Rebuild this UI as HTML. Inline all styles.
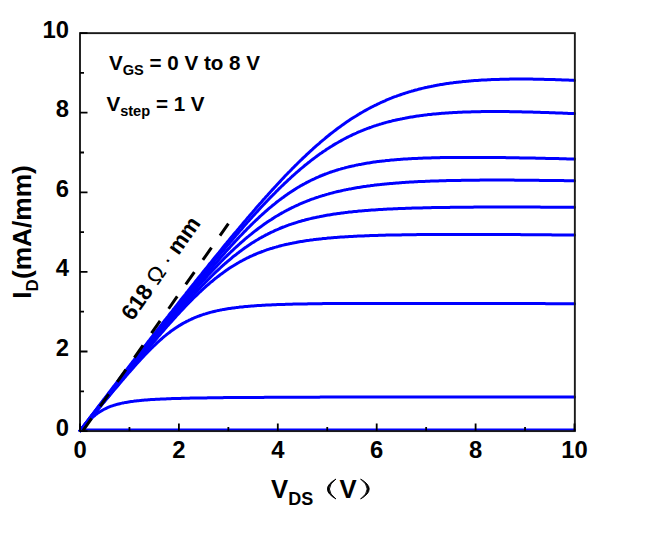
<!DOCTYPE html>
<html><head><meta charset="utf-8"><style>
html,body{margin:0;padding:0;background:#fff;}
svg{display:block;}
text{font-family:"Liberation Sans",sans-serif;font-weight:bold;fill:#000;}
</style></head><body>
<svg width="668" height="542" viewBox="0 0 668 542">
<rect width="668" height="542" fill="#fff"/>
<g fill="none" stroke="#0000ff" stroke-width="3" stroke-linejoin="round" stroke-linecap="round">
<polyline points="80.2,430.6 81.4,429.0 82.7,427.3 83.9,425.7 85.2,424.0 86.4,422.4 87.6,420.8 88.9,419.1 90.1,417.5 91.3,415.8 92.6,414.2 93.8,412.6 95.1,410.9 96.3,409.3 97.5,407.7 98.8,406.0 100.0,404.4 101.3,402.8 102.5,401.1 103.7,399.5 105.0,397.9 106.2,396.3 107.5,394.6 108.7,393.0 109.9,391.4 111.2,389.8 112.4,388.1 113.6,386.5 114.9,384.9 116.1,383.3 117.4,381.7 118.6,380.1 119.8,378.4 121.1,376.8 122.3,375.2 123.6,373.6 124.8,372.0 126.0,370.4 127.3,368.8 128.5,367.1 129.8,365.5 131.0,363.9 132.2,362.3 133.5,360.7 134.7,359.1 135.9,357.5 137.2,355.9 138.4,354.3 139.7,352.7 140.9,351.1 142.1,349.5 143.4,347.9 144.6,346.3 145.9,344.7 147.1,343.1 148.3,341.5 149.6,339.9 150.8,338.3 152.1,336.7 153.3,335.1 154.5,333.5 155.8,331.9 157.0,330.4 158.2,328.8 159.5,327.2 160.7,325.6 162.0,324.0 163.2,322.4 164.4,320.8 165.7,319.3 166.9,317.7 168.2,316.1 169.4,314.5 170.6,312.9 171.9,311.4 173.1,309.8 174.4,308.2 175.6,306.6 176.8,305.1 178.1,303.5 179.3,301.9 180.5,300.3 181.8,298.8 183.0,297.2 184.3,295.6 185.5,294.1 186.7,292.5 188.0,291.0 189.2,289.4 190.5,287.8 191.7,286.3 192.9,284.7 194.2,283.2 195.4,281.6 196.7,280.1 197.9,278.5 199.1,277.0 200.4,275.4 201.6,273.9 202.8,272.3 204.1,270.8 205.3,269.2 206.6,267.7 207.8,266.2 209.0,264.6 210.3,263.1 211.5,261.6 212.8,260.0 214.0,258.5 215.2,257.0 216.5,255.4 217.7,253.9 219.0,252.4 220.2,250.9 221.4,249.4 222.7,247.8 223.9,246.3 225.1,244.8 226.4,243.3 227.6,241.8 228.9,240.3 230.1,238.8 231.3,237.3 232.6,235.8 233.8,234.3 235.1,232.8 236.3,231.4 237.5,229.9 238.8,228.4 240.0,226.9 241.3,225.4 242.5,224.0 243.7,222.5 245.0,221.1 246.2,219.6 247.4,218.1 248.7,216.7 249.9,215.2 251.2,213.8 252.4,212.4 253.6,210.9 254.9,209.5 256.1,208.1 257.4,206.6 258.6,205.2 259.8,203.8 261.1,202.4 262.3,201.0 263.5,199.6 264.8,198.2 266.0,196.8 267.3,195.4 268.5,194.0 269.7,192.7 271.0,191.3 272.2,189.9 273.5,188.6 274.7,187.2 275.9,185.9 277.2,184.5 278.4,183.2 279.7,181.9 280.9,180.5 282.1,179.2 283.4,177.9 284.6,176.6 285.8,175.3 287.1,174.0 288.3,172.7 289.6,171.5 290.8,170.2 292.0,168.9 293.3,167.7 294.5,166.4 295.8,165.2 297.0,164.0 298.2,162.8 299.5,161.5 300.7,160.3 302.0,159.1 303.2,157.9 304.4,156.8 305.7,155.6 306.9,154.4 308.1,153.3 309.4,152.1 310.6,151.0 311.9,149.9 313.1,148.7 314.3,147.6 315.6,146.5 316.8,145.4 318.1,144.3 319.3,143.3 320.5,142.2 321.8,141.1 323.0,140.1 324.3,139.1 325.5,138.0 326.7,137.0 328.0,136.0 329.2,135.0 330.4,134.0 331.7,133.1 332.9,132.1 334.2,131.1 335.4,130.2 336.6,129.3 337.9,128.3 339.1,127.4 340.4,126.5 341.6,125.6 342.8,124.7 344.1,123.9 345.3,123.0 346.6,122.1 347.8,121.3 349.0,120.5 350.3,119.6 351.5,118.8 352.7,118.0 354.0,117.2 355.2,116.5 356.5,115.7 357.7,114.9 358.9,114.2 360.2,113.4 361.4,112.7 362.7,112.0 363.9,111.3 365.1,110.6 366.4,109.9 367.6,109.2 368.9,108.5 370.1,107.9 371.3,107.2 372.6,106.6 373.8,106.0 375.0,105.4 376.3,104.8 377.5,104.2 378.8,103.6 380.0,103.0 381.2,102.4 382.5,101.9 383.7,101.3 385.0,100.8 386.2,100.2 387.4,99.7 388.7,99.2 389.9,98.7 391.2,98.2 392.4,97.7 393.6,97.2 394.9,96.7 396.1,96.3 397.3,95.8 398.6,95.4 399.8,95.0 401.1,94.5 402.3,94.1 403.5,93.7 404.8,93.3 406.0,92.9 407.3,92.5 408.5,92.1 409.7,91.7 411.0,91.4 412.2,91.0 413.4,90.7 414.7,90.3 415.9,90.0 417.2,89.7 418.4,89.3 419.6,89.0 420.9,88.7 422.1,88.4 423.4,88.1 424.6,87.8 425.8,87.5 427.1,87.3 428.3,87.0 429.6,86.7 430.8,86.5 432.0,86.2 433.3,86.0 434.5,85.7 435.7,85.5 437.0,85.3 438.2,85.1 439.5,84.8 440.7,84.6 441.9,84.4 443.2,84.2 444.4,84.0 445.7,83.8 446.9,83.6 448.1,83.5 449.4,83.3 450.6,83.1 451.9,82.9 453.1,82.8 454.3,82.6 455.6,82.5 456.8,82.3 458.0,82.2 459.3,82.0 460.5,81.9 461.8,81.8 463.0,81.6 464.2,81.5 465.5,81.4 466.7,81.3 468.0,81.2 469.2,81.0 470.4,80.9 471.7,80.8 472.9,80.7 474.2,80.6 475.4,80.5 476.6,80.5 477.9,80.4 479.1,80.3 480.3,80.2 481.6,80.1 482.8,80.1 484.1,80.0 485.3,79.9 486.5,79.9 487.8,79.8 489.0,79.7 490.3,79.7 491.5,79.6 492.7,79.6 494.0,79.5 495.2,79.5 496.5,79.4 497.7,79.4 498.9,79.4 500.2,79.3 501.4,79.3 502.6,79.3 503.9,79.2 505.1,79.2 506.4,79.2 507.6,79.2 508.8,79.2 510.1,79.1 511.3,79.1 512.6,79.1 513.8,79.1 515.0,79.1 516.3,79.1 517.5,79.1 518.8,79.1 520.0,79.1 521.2,79.1 522.5,79.1 523.7,79.1 524.9,79.1 526.2,79.1 527.4,79.1 528.7,79.1 529.9,79.1 531.1,79.1 532.4,79.1 533.6,79.2 534.9,79.2 536.1,79.2 537.3,79.2 538.6,79.2 539.8,79.3 541.1,79.3 542.3,79.3 543.5,79.3 544.8,79.4 546.0,79.4 547.2,79.4 548.5,79.5 549.7,79.5 551.0,79.5 552.2,79.6 553.4,79.6 554.7,79.6 555.9,79.7 557.2,79.7 558.4,79.7 559.6,79.8 560.9,79.8 562.1,79.9 563.4,79.9 564.6,80.0 565.8,80.0 567.1,80.1 568.3,80.1 569.5,80.2 570.8,80.2 572.0,80.3 573.3,80.3 574.5,80.4"/>
<polyline points="80.2,430.6 81.4,429.0 82.7,427.4 83.9,425.8 85.2,424.2 86.4,422.6 87.6,420.9 88.9,419.3 90.1,417.7 91.3,416.1 92.6,414.5 93.8,412.9 95.1,411.3 96.3,409.7 97.5,408.1 98.8,406.5 100.0,404.9 101.3,403.3 102.5,401.7 103.7,400.1 105.0,398.5 106.2,396.9 107.5,395.3 108.7,393.8 109.9,392.2 111.2,390.6 112.4,389.0 113.6,387.4 114.9,385.8 116.1,384.2 117.4,382.6 118.6,381.0 119.8,379.4 121.1,377.9 122.3,376.3 123.6,374.7 124.8,373.1 126.0,371.5 127.3,369.9 128.5,368.3 129.8,366.8 131.0,365.2 132.2,363.6 133.5,362.0 134.7,360.4 135.9,358.9 137.2,357.3 138.4,355.7 139.7,354.1 140.9,352.6 142.1,351.0 143.4,349.4 144.6,347.8 145.9,346.3 147.1,344.7 148.3,343.1 149.6,341.6 150.8,340.0 152.1,338.4 153.3,336.9 154.5,335.3 155.8,333.7 157.0,332.2 158.2,330.6 159.5,329.0 160.7,327.5 162.0,325.9 163.2,324.4 164.4,322.8 165.7,321.3 166.9,319.7 168.2,318.1 169.4,316.6 170.6,315.0 171.9,313.5 173.1,311.9 174.4,310.4 175.6,308.8 176.8,307.3 178.1,305.7 179.3,304.2 180.5,302.6 181.8,301.1 183.0,299.6 184.3,298.0 185.5,296.5 186.7,294.9 188.0,293.4 189.2,291.9 190.5,290.3 191.7,288.8 192.9,287.3 194.2,285.7 195.4,284.2 196.7,282.7 197.9,281.2 199.1,279.6 200.4,278.1 201.6,276.6 202.8,275.1 204.1,273.6 205.3,272.1 206.6,270.6 207.8,269.0 209.0,267.5 210.3,266.0 211.5,264.5 212.8,263.0 214.0,261.5 215.2,260.0 216.5,258.5 217.7,257.1 219.0,255.6 220.2,254.1 221.4,252.6 222.7,251.1 223.9,249.7 225.1,248.2 226.4,246.7 227.6,245.3 228.9,243.8 230.1,242.3 231.3,240.9 232.6,239.4 233.8,238.0 235.1,236.5 236.3,235.1 237.5,233.7 238.8,232.2 240.0,230.8 241.3,229.4 242.5,228.0 243.7,226.6 245.0,225.1 246.2,223.7 247.4,222.3 248.7,221.0 249.9,219.6 251.2,218.2 252.4,216.8 253.6,215.4 254.9,214.1 256.1,212.7 257.4,211.4 258.6,210.0 259.8,208.7 261.1,207.3 262.3,206.0 263.5,204.7 264.8,203.4 266.0,202.1 267.3,200.8 268.5,199.5 269.7,198.2 271.0,196.9 272.2,195.7 273.5,194.4 274.7,193.2 275.9,191.9 277.2,190.7 278.4,189.4 279.7,188.2 280.9,187.0 282.1,185.8 283.4,184.6 284.6,183.4 285.8,182.3 287.1,181.1 288.3,179.9 289.6,178.8 290.8,177.7 292.0,176.5 293.3,175.4 294.5,174.3 295.8,173.2 297.0,172.1 298.2,171.1 299.5,170.0 300.7,168.9 302.0,167.9 303.2,166.9 304.4,165.8 305.7,164.8 306.9,163.8 308.1,162.8 309.4,161.9 310.6,160.9 311.9,159.9 313.1,159.0 314.3,158.1 315.6,157.1 316.8,156.2 318.1,155.3 319.3,154.4 320.5,153.5 321.8,152.7 323.0,151.8 324.3,151.0 325.5,150.2 326.7,149.3 328.0,148.5 329.2,147.7 330.4,146.9 331.7,146.2 332.9,145.4 334.2,144.6 335.4,143.9 336.6,143.2 337.9,142.5 339.1,141.8 340.4,141.1 341.6,140.4 342.8,139.7 344.1,139.0 345.3,138.4 346.6,137.7 347.8,137.1 349.0,136.5 350.3,135.9 351.5,135.3 352.7,134.7 354.0,134.1 355.2,133.6 356.5,133.0 357.7,132.4 358.9,131.9 360.2,131.4 361.4,130.9 362.7,130.4 363.9,129.9 365.1,129.4 366.4,128.9 367.6,128.4 368.9,128.0 370.1,127.5 371.3,127.1 372.6,126.6 373.8,126.2 375.0,125.8 376.3,125.4 377.5,125.0 378.8,124.6 380.0,124.2 381.2,123.9 382.5,123.5 383.7,123.1 385.0,122.8 386.2,122.4 387.4,122.1 388.7,121.8 389.9,121.5 391.2,121.2 392.4,120.8 393.6,120.5 394.9,120.3 396.1,120.0 397.3,119.7 398.6,119.4 399.8,119.2 401.1,118.9 402.3,118.7 403.5,118.4 404.8,118.2 406.0,117.9 407.3,117.7 408.5,117.5 409.7,117.3 411.0,117.1 412.2,116.9 413.4,116.7 414.7,116.5 415.9,116.3 417.2,116.1 418.4,115.9 419.6,115.7 420.9,115.6 422.1,115.4 423.4,115.2 424.6,115.1 425.8,114.9 427.1,114.8 428.3,114.6 429.6,114.5 430.8,114.4 432.0,114.2 433.3,114.1 434.5,114.0 435.7,113.9 437.0,113.8 438.2,113.7 439.5,113.5 440.7,113.4 441.9,113.3 443.2,113.2 444.4,113.2 445.7,113.1 446.9,113.0 448.1,112.9 449.4,112.8 450.6,112.7 451.9,112.7 453.1,112.6 454.3,112.5 455.6,112.5 456.8,112.4 458.0,112.3 459.3,112.3 460.5,112.2 461.8,112.2 463.0,112.1 464.2,112.1 465.5,112.0 466.7,112.0 468.0,111.9 469.2,111.9 470.4,111.9 471.7,111.8 472.9,111.8 474.2,111.8 475.4,111.7 476.6,111.7 477.9,111.7 479.1,111.7 480.3,111.7 481.6,111.6 482.8,111.6 484.1,111.6 485.3,111.6 486.5,111.6 487.8,111.6 489.0,111.6 490.3,111.6 491.5,111.6 492.7,111.6 494.0,111.5 495.2,111.5 496.5,111.6 497.7,111.6 498.9,111.6 500.2,111.6 501.4,111.6 502.6,111.6 503.9,111.6 505.1,111.6 506.4,111.6 507.6,111.6 508.8,111.6 510.1,111.7 511.3,111.7 512.6,111.7 513.8,111.7 515.0,111.7 516.3,111.8 517.5,111.8 518.8,111.8 520.0,111.8 521.2,111.8 522.5,111.9 523.7,111.9 524.9,111.9 526.2,112.0 527.4,112.0 528.7,112.0 529.9,112.1 531.1,112.1 532.4,112.1 533.6,112.2 534.9,112.2 536.1,112.2 537.3,112.3 538.6,112.3 539.8,112.3 541.1,112.4 542.3,112.4 543.5,112.5 544.8,112.5 546.0,112.5 547.2,112.6 548.5,112.6 549.7,112.7 551.0,112.7 552.2,112.8 553.4,112.8 554.7,112.8 555.9,112.9 557.2,112.9 558.4,113.0 559.6,113.0 560.9,113.1 562.1,113.1 563.4,113.2 564.6,113.2 565.8,113.3 567.1,113.3 568.3,113.4 569.5,113.4 570.8,113.5 572.0,113.5 573.3,113.6 574.5,113.6"/>
<polyline points="80.2,430.6 81.4,429.0 82.7,427.5 83.9,425.9 85.2,424.3 86.4,422.8 87.6,421.2 88.9,419.7 90.1,418.1 91.3,416.5 92.6,415.0 93.8,413.4 95.1,411.8 96.3,410.3 97.5,408.7 98.8,407.2 100.0,405.6 101.3,404.0 102.5,402.5 103.7,400.9 105.0,399.4 106.2,397.8 107.5,396.3 108.7,394.7 109.9,393.1 111.2,391.6 112.4,390.0 113.6,388.5 114.9,386.9 116.1,385.4 117.4,383.8 118.6,382.3 119.8,380.7 121.1,379.2 122.3,377.6 123.6,376.1 124.8,374.5 126.0,373.0 127.3,371.4 128.5,369.9 129.8,368.3 131.0,366.8 132.2,365.2 133.5,363.7 134.7,362.1 135.9,360.6 137.2,359.0 138.4,357.5 139.7,355.9 140.9,354.4 142.1,352.8 143.4,351.3 144.6,349.8 145.9,348.2 147.1,346.7 148.3,345.1 149.6,343.6 150.8,342.1 152.1,340.5 153.3,339.0 154.5,337.4 155.8,335.9 157.0,334.4 158.2,332.8 159.5,331.3 160.7,329.8 162.0,328.2 163.2,326.7 164.4,325.2 165.7,323.6 166.9,322.1 168.2,320.6 169.4,319.0 170.6,317.5 171.9,316.0 173.1,314.5 174.4,312.9 175.6,311.4 176.8,309.9 178.1,308.4 179.3,306.9 180.5,305.3 181.8,303.8 183.0,302.3 184.3,300.8 185.5,299.3 186.7,297.8 188.0,296.3 189.2,294.8 190.5,293.3 191.7,291.8 192.9,290.3 194.2,288.8 195.4,287.3 196.7,285.8 197.9,284.3 199.1,282.8 200.4,281.3 201.6,279.9 202.8,278.4 204.1,276.9 205.3,275.4 206.6,274.0 207.8,272.5 209.0,271.1 210.3,269.6 211.5,268.2 212.8,266.7 214.0,265.3 215.2,263.8 216.5,262.4 217.7,261.0 219.0,259.5 220.2,258.1 221.4,256.7 222.7,255.3 223.9,253.9 225.1,252.5 226.4,251.1 227.6,249.7 228.9,248.4 230.1,247.0 231.3,245.6 232.6,244.3 233.8,242.9 235.1,241.6 236.3,240.3 237.5,238.9 238.8,237.6 240.0,236.3 241.3,235.0 242.5,233.7 243.7,232.4 245.0,231.2 246.2,229.9 247.4,228.6 248.7,227.4 249.9,226.2 251.2,224.9 252.4,223.7 253.6,222.5 254.9,221.3 256.1,220.1 257.4,219.0 258.6,217.8 259.8,216.7 261.1,215.5 262.3,214.4 263.5,213.3 264.8,212.2 266.0,211.1 267.3,210.0 268.5,208.9 269.7,207.9 271.0,206.8 272.2,205.8 273.5,204.8 274.7,203.8 275.9,202.8 277.2,201.8 278.4,200.9 279.7,199.9 280.9,199.0 282.1,198.1 283.4,197.2 284.6,196.3 285.8,195.4 287.1,194.5 288.3,193.6 289.6,192.8 290.8,192.0 292.0,191.2 293.3,190.4 294.5,189.6 295.8,188.8 297.0,188.0 298.2,187.3 299.5,186.6 300.7,185.8 302.0,185.1 303.2,184.4 304.4,183.8 305.7,183.1 306.9,182.4 308.1,181.8 309.4,181.2 310.6,180.5 311.9,179.9 313.1,179.3 314.3,178.8 315.6,178.2 316.8,177.6 318.1,177.1 319.3,176.5 320.5,176.0 321.8,175.5 323.0,175.0 324.3,174.5 325.5,174.0 326.7,173.6 328.0,173.1 329.2,172.7 330.4,172.2 331.7,171.8 332.9,171.4 334.2,171.0 335.4,170.6 336.6,170.2 337.9,169.8 339.1,169.4 340.4,169.1 341.6,168.7 342.8,168.4 344.1,168.1 345.3,167.7 346.6,167.4 347.8,167.1 349.0,166.8 350.3,166.5 351.5,166.2 352.7,165.9 354.0,165.7 355.2,165.4 356.5,165.1 357.7,164.9 358.9,164.6 360.2,164.4 361.4,164.2 362.7,163.9 363.9,163.7 365.1,163.5 366.4,163.3 367.6,163.1 368.9,162.9 370.1,162.7 371.3,162.5 372.6,162.3 373.8,162.1 375.0,162.0 376.3,161.8 377.5,161.6 378.8,161.5 380.0,161.3 381.2,161.2 382.5,161.0 383.7,160.9 385.0,160.8 386.2,160.6 387.4,160.5 388.7,160.4 389.9,160.2 391.2,160.1 392.4,160.0 393.6,159.9 394.9,159.8 396.1,159.7 397.3,159.6 398.6,159.5 399.8,159.4 401.1,159.3 402.3,159.2 403.5,159.1 404.8,159.1 406.0,159.0 407.3,158.9 408.5,158.8 409.7,158.8 411.0,158.7 412.2,158.6 413.4,158.6 414.7,158.5 415.9,158.4 417.2,158.4 418.4,158.3 419.6,158.3 420.9,158.2 422.1,158.2 423.4,158.1 424.6,158.1 425.8,158.0 427.1,158.0 428.3,157.9 429.6,157.9 430.8,157.9 432.0,157.8 433.3,157.8 434.5,157.8 435.7,157.7 437.0,157.7 438.2,157.7 439.5,157.7 440.7,157.6 441.9,157.6 443.2,157.6 444.4,157.6 445.7,157.5 446.9,157.5 448.1,157.5 449.4,157.5 450.6,157.5 451.9,157.5 453.1,157.4 454.3,157.4 455.6,157.4 456.8,157.4 458.0,157.4 459.3,157.4 460.5,157.4 461.8,157.4 463.0,157.4 464.2,157.4 465.5,157.4 466.7,157.4 468.0,157.4 469.2,157.4 470.4,157.4 471.7,157.4 472.9,157.4 474.2,157.4 475.4,157.4 476.6,157.4 477.9,157.4 479.1,157.4 480.3,157.4 481.6,157.4 482.8,157.4 484.1,157.4 485.3,157.4 486.5,157.4 487.8,157.5 489.0,157.5 490.3,157.5 491.5,157.5 492.7,157.5 494.0,157.5 495.2,157.5 496.5,157.5 497.7,157.6 498.9,157.6 500.2,157.6 501.4,157.6 502.6,157.6 503.9,157.6 505.1,157.6 506.4,157.7 507.6,157.7 508.8,157.7 510.1,157.7 511.3,157.7 512.6,157.8 513.8,157.8 515.0,157.8 516.3,157.8 517.5,157.8 518.8,157.8 520.0,157.9 521.2,157.9 522.5,157.9 523.7,157.9 524.9,158.0 526.2,158.0 527.4,158.0 528.7,158.0 529.9,158.0 531.1,158.1 532.4,158.1 533.6,158.1 534.9,158.1 536.1,158.2 537.3,158.2 538.6,158.2 539.8,158.2 541.1,158.3 542.3,158.3 543.5,158.3 544.8,158.3 546.0,158.4 547.2,158.4 548.5,158.4 549.7,158.5 551.0,158.5 552.2,158.5 553.4,158.5 554.7,158.6 555.9,158.6 557.2,158.6 558.4,158.6 559.6,158.7 560.9,158.7 562.1,158.7 563.4,158.8 564.6,158.8 565.8,158.8 567.1,158.9 568.3,158.9 569.5,158.9 570.8,158.9 572.0,159.0 573.3,159.0 574.5,159.0"/>
<polyline points="80.2,430.6 81.4,429.0 82.7,427.5 83.9,425.9 85.2,424.4 86.4,422.8 87.6,421.3 88.9,419.7 90.1,418.2 91.3,416.6 92.6,415.1 93.8,413.5 95.1,412.0 96.3,410.4 97.5,408.8 98.8,407.3 100.0,405.7 101.3,404.2 102.5,402.6 103.7,401.1 105.0,399.5 106.2,398.0 107.5,396.4 108.7,394.9 109.9,393.4 111.2,391.8 112.4,390.3 113.6,388.7 114.9,387.2 116.1,385.6 117.4,384.1 118.6,382.5 119.8,381.0 121.1,379.4 122.3,377.9 123.6,376.4 124.8,374.8 126.0,373.3 127.3,371.7 128.5,370.2 129.8,368.7 131.0,367.1 132.2,365.6 133.5,364.0 134.7,362.5 135.9,361.0 137.2,359.4 138.4,357.9 139.7,356.4 140.9,354.8 142.1,353.3 143.4,351.8 144.6,350.2 145.9,348.7 147.1,347.2 148.3,345.7 149.6,344.1 150.8,342.6 152.1,341.1 153.3,339.6 154.5,338.1 155.8,336.5 157.0,335.0 158.2,333.5 159.5,332.0 160.7,330.5 162.0,329.0 163.2,327.5 164.4,326.0 165.7,324.5 166.9,323.0 168.2,321.5 169.4,320.0 170.6,318.5 171.9,317.0 173.1,315.5 174.4,314.0 175.6,312.5 176.8,311.1 178.1,309.6 179.3,308.1 180.5,306.7 181.8,305.2 183.0,303.7 184.3,302.3 185.5,300.8 186.7,299.4 188.0,297.9 189.2,296.5 190.5,295.1 191.7,293.6 192.9,292.2 194.2,290.8 195.4,289.4 196.7,288.0 197.9,286.6 199.1,285.2 200.4,283.8 201.6,282.4 202.8,281.0 204.1,279.7 205.3,278.3 206.6,276.9 207.8,275.6 209.0,274.3 210.3,272.9 211.5,271.6 212.8,270.3 214.0,269.0 215.2,267.7 216.5,266.4 217.7,265.1 219.0,263.8 220.2,262.5 221.4,261.3 222.7,260.0 223.9,258.8 225.1,257.5 226.4,256.3 227.6,255.1 228.9,253.9 230.1,252.7 231.3,251.5 232.6,250.4 233.8,249.2 235.1,248.0 236.3,246.9 237.5,245.8 238.8,244.7 240.0,243.5 241.3,242.4 242.5,241.4 243.7,240.3 245.0,239.2 246.2,238.2 247.4,237.1 248.7,236.1 249.9,235.1 251.2,234.1 252.4,233.1 253.6,232.1 254.9,231.1 256.1,230.2 257.4,229.2 258.6,228.3 259.8,227.4 261.1,226.5 262.3,225.6 263.5,224.7 264.8,223.8 266.0,223.0 267.3,222.1 268.5,221.3 269.7,220.5 271.0,219.7 272.2,218.9 273.5,218.1 274.7,217.3 275.9,216.5 277.2,215.8 278.4,215.1 279.7,214.3 280.9,213.6 282.1,212.9 283.4,212.2 284.6,211.5 285.8,210.9 287.1,210.2 288.3,209.6 289.6,208.9 290.8,208.3 292.0,207.7 293.3,207.1 294.5,206.5 295.8,205.9 297.0,205.3 298.2,204.8 299.5,204.2 300.7,203.7 302.0,203.1 303.2,202.6 304.4,202.1 305.7,201.6 306.9,201.1 308.1,200.6 309.4,200.2 310.6,199.7 311.9,199.2 313.1,198.8 314.3,198.4 315.6,197.9 316.8,197.5 318.1,197.1 319.3,196.7 320.5,196.3 321.8,195.9 323.0,195.5 324.3,195.2 325.5,194.8 326.7,194.4 328.0,194.1 329.2,193.7 330.4,193.4 331.7,193.1 332.9,192.8 334.2,192.4 335.4,192.1 336.6,191.8 337.9,191.5 339.1,191.2 340.4,191.0 341.6,190.7 342.8,190.4 344.1,190.1 345.3,189.9 346.6,189.6 347.8,189.4 349.0,189.1 350.3,188.9 351.5,188.7 352.7,188.4 354.0,188.2 355.2,188.0 356.5,187.8 357.7,187.6 358.9,187.4 360.2,187.2 361.4,187.0 362.7,186.8 363.9,186.6 365.1,186.4 366.4,186.3 367.6,186.1 368.9,185.9 370.1,185.8 371.3,185.6 372.6,185.4 373.8,185.3 375.0,185.1 376.3,185.0 377.5,184.8 378.8,184.7 380.0,184.6 381.2,184.4 382.5,184.3 383.7,184.2 385.0,184.0 386.2,183.9 387.4,183.8 388.7,183.7 389.9,183.6 391.2,183.5 392.4,183.4 393.6,183.3 394.9,183.2 396.1,183.1 397.3,183.0 398.6,182.9 399.8,182.8 401.1,182.7 402.3,182.6 403.5,182.5 404.8,182.4 406.0,182.3 407.3,182.3 408.5,182.2 409.7,182.1 411.0,182.0 412.2,182.0 413.4,181.9 414.7,181.8 415.9,181.8 417.2,181.7 418.4,181.6 419.6,181.6 420.9,181.5 422.1,181.5 423.4,181.4 424.6,181.4 425.8,181.3 427.1,181.3 428.3,181.2 429.6,181.2 430.8,181.1 432.0,181.1 433.3,181.0 434.5,181.0 435.7,180.9 437.0,180.9 438.2,180.9 439.5,180.8 440.7,180.8 441.9,180.7 443.2,180.7 444.4,180.7 445.7,180.7 446.9,180.6 448.1,180.6 449.4,180.6 450.6,180.5 451.9,180.5 453.1,180.5 454.3,180.5 455.6,180.4 456.8,180.4 458.0,180.4 459.3,180.4 460.5,180.4 461.8,180.3 463.0,180.3 464.2,180.3 465.5,180.3 466.7,180.3 468.0,180.3 469.2,180.2 470.4,180.2 471.7,180.2 472.9,180.2 474.2,180.2 475.4,180.2 476.6,180.2 477.9,180.2 479.1,180.2 480.3,180.1 481.6,180.1 482.8,180.1 484.1,180.1 485.3,180.1 486.5,180.1 487.8,180.1 489.0,180.1 490.3,180.1 491.5,180.1 492.7,180.1 494.0,180.1 495.2,180.1 496.5,180.1 497.7,180.1 498.9,180.1 500.2,180.1 501.4,180.1 502.6,180.1 503.9,180.1 505.1,180.1 506.4,180.1 507.6,180.1 508.8,180.1 510.1,180.1 511.3,180.1 512.6,180.1 513.8,180.1 515.0,180.2 516.3,180.2 517.5,180.2 518.8,180.2 520.0,180.2 521.2,180.2 522.5,180.2 523.7,180.2 524.9,180.2 526.2,180.2 527.4,180.2 528.7,180.2 529.9,180.3 531.1,180.3 532.4,180.3 533.6,180.3 534.9,180.3 536.1,180.3 537.3,180.3 538.6,180.3 539.8,180.4 541.1,180.4 542.3,180.4 543.5,180.4 544.8,180.4 546.0,180.4 547.2,180.4 548.5,180.5 549.7,180.5 551.0,180.5 552.2,180.5 553.4,180.5 554.7,180.5 555.9,180.5 557.2,180.6 558.4,180.6 559.6,180.6 560.9,180.6 562.1,180.6 563.4,180.6 564.6,180.7 565.8,180.7 567.1,180.7 568.3,180.7 569.5,180.7 570.8,180.8 572.0,180.8 573.3,180.8 574.5,180.8"/>
<polyline points="80.2,430.6 81.4,429.1 82.7,427.6 83.9,426.0 85.2,424.5 86.4,423.0 87.6,421.5 88.9,420.0 90.1,418.4 91.3,416.9 92.6,415.4 93.8,413.9 95.1,412.4 96.3,410.8 97.5,409.3 98.8,407.8 100.0,406.3 101.3,404.8 102.5,403.3 103.7,401.7 105.0,400.2 106.2,398.7 107.5,397.2 108.7,395.7 109.9,394.2 111.2,392.6 112.4,391.1 113.6,389.6 114.9,388.1 116.1,386.6 117.4,385.1 118.6,383.6 119.8,382.0 121.1,380.5 122.3,379.0 123.6,377.5 124.8,376.0 126.0,374.5 127.3,373.0 128.5,371.5 129.8,369.9 131.0,368.4 132.2,366.9 133.5,365.4 134.7,363.9 135.9,362.4 137.2,360.9 138.4,359.4 139.7,357.9 140.9,356.4 142.1,354.9 143.4,353.4 144.6,351.9 145.9,350.4 147.1,348.9 148.3,347.4 149.6,345.9 150.8,344.4 152.1,342.9 153.3,341.4 154.5,339.9 155.8,338.4 157.0,337.0 158.2,335.5 159.5,334.0 160.7,332.5 162.0,331.1 163.2,329.6 164.4,328.1 165.7,326.6 166.9,325.2 168.2,323.7 169.4,322.3 170.6,320.8 171.9,319.4 173.1,317.9 174.4,316.5 175.6,315.1 176.8,313.6 178.1,312.2 179.3,310.8 180.5,309.4 181.8,307.9 183.0,306.5 184.3,305.1 185.5,303.7 186.7,302.4 188.0,301.0 189.2,299.6 190.5,298.2 191.7,296.9 192.9,295.5 194.2,294.2 195.4,292.8 196.7,291.5 197.9,290.2 199.1,288.9 200.4,287.5 201.6,286.3 202.8,285.0 204.1,283.7 205.3,282.4 206.6,281.1 207.8,279.9 209.0,278.7 210.3,277.4 211.5,276.2 212.8,275.0 214.0,273.8 215.2,272.6 216.5,271.4 217.7,270.3 219.0,269.1 220.2,268.0 221.4,266.8 222.7,265.7 223.9,264.6 225.1,263.5 226.4,262.5 227.6,261.4 228.9,260.3 230.1,259.3 231.3,258.3 232.6,257.2 233.8,256.2 235.1,255.3 236.3,254.3 237.5,253.3 238.8,252.4 240.0,251.4 241.3,250.5 242.5,249.6 243.7,248.7 245.0,247.8 246.2,247.0 247.4,246.1 248.7,245.3 249.9,244.5 251.2,243.6 252.4,242.8 253.6,242.1 254.9,241.3 256.1,240.5 257.4,239.8 258.6,239.1 259.8,238.3 261.1,237.6 262.3,236.9 263.5,236.3 264.8,235.6 266.0,234.9 267.3,234.3 268.5,233.7 269.7,233.1 271.0,232.4 272.2,231.9 273.5,231.3 274.7,230.7 275.9,230.1 277.2,229.6 278.4,229.1 279.7,228.5 280.9,228.0 282.1,227.5 283.4,227.0 284.6,226.6 285.8,226.1 287.1,225.6 288.3,225.2 289.6,224.7 290.8,224.3 292.0,223.9 293.3,223.5 294.5,223.1 295.8,222.7 297.0,222.3 298.2,221.9 299.5,221.5 300.7,221.2 302.0,220.8 303.2,220.5 304.4,220.2 305.7,219.8 306.9,219.5 308.1,219.2 309.4,218.9 310.6,218.6 311.9,218.3 313.1,218.0 314.3,217.7 315.6,217.5 316.8,217.2 318.1,216.9 319.3,216.7 320.5,216.4 321.8,216.2 323.0,216.0 324.3,215.7 325.5,215.5 326.7,215.3 328.0,215.1 329.2,214.9 330.4,214.7 331.7,214.5 332.9,214.3 334.2,214.1 335.4,213.9 336.6,213.7 337.9,213.5 339.1,213.4 340.4,213.2 341.6,213.0 342.8,212.9 344.1,212.7 345.3,212.6 346.6,212.4 347.8,212.3 349.0,212.1 350.3,212.0 351.5,211.9 352.7,211.7 354.0,211.6 355.2,211.5 356.5,211.4 357.7,211.2 358.9,211.1 360.2,211.0 361.4,210.9 362.7,210.8 363.9,210.7 365.1,210.6 366.4,210.5 367.6,210.4 368.9,210.3 370.1,210.2 371.3,210.1 372.6,210.0 373.8,209.9 375.0,209.9 376.3,209.8 377.5,209.7 378.8,209.6 380.0,209.5 381.2,209.5 382.5,209.4 383.7,209.3 385.0,209.3 386.2,209.2 387.4,209.1 388.7,209.1 389.9,209.0 391.2,208.9 392.4,208.9 393.6,208.8 394.9,208.8 396.1,208.7 397.3,208.7 398.6,208.6 399.8,208.6 401.1,208.5 402.3,208.5 403.5,208.4 404.8,208.4 406.0,208.3 407.3,208.3 408.5,208.2 409.7,208.2 411.0,208.2 412.2,208.1 413.4,208.1 414.7,208.1 415.9,208.0 417.2,208.0 418.4,207.9 419.6,207.9 420.9,207.9 422.1,207.9 423.4,207.8 424.6,207.8 425.8,207.8 427.1,207.7 428.3,207.7 429.6,207.7 430.8,207.7 432.0,207.6 433.3,207.6 434.5,207.6 435.7,207.6 437.0,207.5 438.2,207.5 439.5,207.5 440.7,207.5 441.9,207.5 443.2,207.4 444.4,207.4 445.7,207.4 446.9,207.4 448.1,207.4 449.4,207.4 450.6,207.3 451.9,207.3 453.1,207.3 454.3,207.3 455.6,207.3 456.8,207.3 458.0,207.3 459.3,207.3 460.5,207.2 461.8,207.2 463.0,207.2 464.2,207.2 465.5,207.2 466.7,207.2 468.0,207.2 469.2,207.2 470.4,207.2 471.7,207.2 472.9,207.2 474.2,207.1 475.4,207.1 476.6,207.1 477.9,207.1 479.1,207.1 480.3,207.1 481.6,207.1 482.8,207.1 484.1,207.1 485.3,207.1 486.5,207.1 487.8,207.1 489.0,207.1 490.3,207.1 491.5,207.1 492.7,207.1 494.0,207.1 495.2,207.1 496.5,207.1 497.7,207.1 498.9,207.1 500.2,207.1 501.4,207.1 502.6,207.1 503.9,207.1 505.1,207.1 506.4,207.1 507.6,207.1 508.8,207.1 510.1,207.1 511.3,207.1 512.6,207.1 513.8,207.1 515.0,207.1 516.3,207.1 517.5,207.1 518.8,207.1 520.0,207.1 521.2,207.1 522.5,207.1 523.7,207.1 524.9,207.1 526.2,207.1 527.4,207.1 528.7,207.1 529.9,207.1 531.1,207.1 532.4,207.1 533.6,207.1 534.9,207.1 536.1,207.1 537.3,207.1 538.6,207.1 539.8,207.1 541.1,207.2 542.3,207.2 543.5,207.2 544.8,207.2 546.0,207.2 547.2,207.2 548.5,207.2 549.7,207.2 551.0,207.2 552.2,207.2 553.4,207.2 554.7,207.2 555.9,207.2 557.2,207.2 558.4,207.2 559.6,207.2 560.9,207.3 562.1,207.3 563.4,207.3 564.6,207.3 565.8,207.3 567.1,207.3 568.3,207.3 569.5,207.3 570.8,207.3 572.0,207.3 573.3,207.3 574.5,207.3"/>
<polyline points="80.2,430.6 81.4,429.1 82.7,427.6 83.9,426.1 85.2,424.6 86.4,423.1 87.6,421.6 88.9,420.1 90.1,418.5 91.3,417.0 92.6,415.5 93.8,414.0 95.1,412.5 96.3,411.0 97.5,409.5 98.8,408.0 100.0,406.5 101.3,405.0 102.5,403.5 103.7,402.0 105.0,400.5 106.2,399.0 107.5,397.5 108.7,396.0 109.9,394.5 111.2,393.0 112.4,391.5 113.6,390.0 114.9,388.5 116.1,387.0 117.4,385.5 118.6,384.0 119.8,382.5 121.1,381.0 122.3,379.5 123.6,378.0 124.8,376.5 126.0,375.0 127.3,373.5 128.5,372.0 129.8,370.5 131.0,369.0 132.2,367.5 133.5,366.0 134.7,364.5 135.9,363.0 137.2,361.6 138.4,360.1 139.7,358.6 140.9,357.1 142.1,355.6 143.4,354.2 144.6,352.7 145.9,351.2 147.1,349.7 148.3,348.3 149.6,346.8 150.8,345.3 152.1,343.9 153.3,342.4 154.5,341.0 155.8,339.5 157.0,338.1 158.2,336.6 159.5,335.2 160.7,333.7 162.0,332.3 163.2,330.9 164.4,329.5 165.7,328.1 166.9,326.6 168.2,325.2 169.4,323.8 170.6,322.4 171.9,321.1 173.1,319.7 174.4,318.3 175.6,316.9 176.8,315.6 178.1,314.2 179.3,312.9 180.5,311.6 181.8,310.2 183.0,308.9 184.3,307.6 185.5,306.3 186.7,305.0 188.0,303.7 189.2,302.5 190.5,301.2 191.7,300.0 192.9,298.7 194.2,297.5 195.4,296.3 196.7,295.1 197.9,293.9 199.1,292.7 200.4,291.6 201.6,290.4 202.8,289.3 204.1,288.2 205.3,287.0 206.6,285.9 207.8,284.9 209.0,283.8 210.3,282.7 211.5,281.7 212.8,280.7 214.0,279.6 215.2,278.6 216.5,277.7 217.7,276.7 219.0,275.7 220.2,274.8 221.4,273.9 222.7,273.0 223.9,272.1 225.1,271.2 226.4,270.3 227.6,269.5 228.9,268.6 230.1,267.8 231.3,267.0 232.6,266.2 233.8,265.5 235.1,264.7 236.3,264.0 237.5,263.2 238.8,262.5 240.0,261.8 241.3,261.1 242.5,260.5 243.7,259.8 245.0,259.2 246.2,258.5 247.4,257.9 248.7,257.3 249.9,256.7 251.2,256.1 252.4,255.6 253.6,255.0 254.9,254.5 256.1,254.0 257.4,253.4 258.6,252.9 259.8,252.5 261.1,252.0 262.3,251.5 263.5,251.1 264.8,250.6 266.0,250.2 267.3,249.7 268.5,249.3 269.7,248.9 271.0,248.5 272.2,248.2 273.5,247.8 274.7,247.4 275.9,247.1 277.2,246.7 278.4,246.4 279.7,246.0 280.9,245.7 282.1,245.4 283.4,245.1 284.6,244.8 285.8,244.5 287.1,244.2 288.3,244.0 289.6,243.7 290.8,243.4 292.0,243.2 293.3,242.9 294.5,242.7 295.8,242.5 297.0,242.2 298.2,242.0 299.5,241.8 300.7,241.6 302.0,241.4 303.2,241.2 304.4,241.0 305.7,240.8 306.9,240.6 308.1,240.4 309.4,240.3 310.6,240.1 311.9,239.9 313.1,239.8 314.3,239.6 315.6,239.5 316.8,239.3 318.1,239.2 319.3,239.0 320.5,238.9 321.8,238.8 323.0,238.6 324.3,238.5 325.5,238.4 326.7,238.3 328.0,238.1 329.2,238.0 330.4,237.9 331.7,237.8 332.9,237.7 334.2,237.6 335.4,237.5 336.6,237.4 337.9,237.3 339.1,237.2 340.4,237.1 341.6,237.1 342.8,237.0 344.1,236.9 345.3,236.8 346.6,236.7 347.8,236.7 349.0,236.6 350.3,236.5 351.5,236.5 352.7,236.4 354.0,236.3 355.2,236.3 356.5,236.2 357.7,236.1 358.9,236.1 360.2,236.0 361.4,236.0 362.7,235.9 363.9,235.9 365.1,235.8 366.4,235.8 367.6,235.7 368.9,235.7 370.1,235.6 371.3,235.6 372.6,235.5 373.8,235.5 375.0,235.5 376.3,235.4 377.5,235.4 378.8,235.3 380.0,235.3 381.2,235.3 382.5,235.2 383.7,235.2 385.0,235.2 386.2,235.1 387.4,235.1 388.7,235.1 389.9,235.1 391.2,235.0 392.4,235.0 393.6,235.0 394.9,235.0 396.1,234.9 397.3,234.9 398.6,234.9 399.8,234.9 401.1,234.9 402.3,234.8 403.5,234.8 404.8,234.8 406.0,234.8 407.3,234.8 408.5,234.7 409.7,234.7 411.0,234.7 412.2,234.7 413.4,234.7 414.7,234.7 415.9,234.7 417.2,234.6 418.4,234.6 419.6,234.6 420.9,234.6 422.1,234.6 423.4,234.6 424.6,234.6 425.8,234.6 427.1,234.6 428.3,234.5 429.6,234.5 430.8,234.5 432.0,234.5 433.3,234.5 434.5,234.5 435.7,234.5 437.0,234.5 438.2,234.5 439.5,234.5 440.7,234.5 441.9,234.5 443.2,234.5 444.4,234.5 445.7,234.5 446.9,234.5 448.1,234.5 449.4,234.5 450.6,234.5 451.9,234.5 453.1,234.5 454.3,234.5 455.6,234.5 456.8,234.5 458.0,234.4 459.3,234.4 460.5,234.4 461.8,234.4 463.0,234.4 464.2,234.4 465.5,234.5 466.7,234.5 468.0,234.5 469.2,234.5 470.4,234.5 471.7,234.5 472.9,234.5 474.2,234.5 475.4,234.5 476.6,234.5 477.9,234.5 479.1,234.5 480.3,234.5 481.6,234.5 482.8,234.5 484.1,234.5 485.3,234.5 486.5,234.5 487.8,234.5 489.0,234.5 490.3,234.5 491.5,234.5 492.7,234.5 494.0,234.5 495.2,234.5 496.5,234.5 497.7,234.5 498.9,234.5 500.2,234.5 501.4,234.5 502.6,234.6 503.9,234.6 505.1,234.6 506.4,234.6 507.6,234.6 508.8,234.6 510.1,234.6 511.3,234.6 512.6,234.6 513.8,234.6 515.0,234.6 516.3,234.6 517.5,234.6 518.8,234.6 520.0,234.6 521.2,234.7 522.5,234.7 523.7,234.7 524.9,234.7 526.2,234.7 527.4,234.7 528.7,234.7 529.9,234.7 531.1,234.7 532.4,234.7 533.6,234.7 534.9,234.7 536.1,234.7 537.3,234.8 538.6,234.8 539.8,234.8 541.1,234.8 542.3,234.8 543.5,234.8 544.8,234.8 546.0,234.8 547.2,234.8 548.5,234.8 549.7,234.8 551.0,234.8 552.2,234.9 553.4,234.9 554.7,234.9 555.9,234.9 557.2,234.9 558.4,234.9 559.6,234.9 560.9,234.9 562.1,234.9 563.4,234.9 564.6,235.0 565.8,235.0 567.1,235.0 568.3,235.0 569.5,235.0 570.8,235.0 572.0,235.0 573.3,235.0 574.5,235.0"/>
<polyline points="80.2,430.6 81.4,429.1 82.7,427.6 83.9,426.1 85.2,424.7 86.4,423.2 87.6,421.7 88.9,420.2 90.1,418.7 91.3,417.2 92.6,415.8 93.8,414.3 95.1,412.8 96.3,411.3 97.5,409.8 98.8,408.3 100.0,406.9 101.3,405.4 102.5,403.9 103.7,402.4 105.0,400.9 106.2,399.4 107.5,398.0 108.7,396.5 109.9,395.0 111.2,393.5 112.4,392.1 113.6,390.6 114.9,389.1 116.1,387.7 117.4,386.2 118.6,384.7 119.8,383.3 121.1,381.8 122.3,380.3 123.6,378.9 124.8,377.4 126.0,376.0 127.3,374.6 128.5,373.1 129.8,371.7 131.0,370.3 132.2,368.9 133.5,367.5 134.7,366.1 135.9,364.7 137.2,363.3 138.4,361.9 139.7,360.6 140.9,359.2 142.1,357.9 143.4,356.6 144.6,355.2 145.9,353.9 147.1,352.7 148.3,351.4 149.6,350.1 150.8,348.9 152.1,347.7 153.3,346.4 154.5,345.3 155.8,344.1 157.0,342.9 158.2,341.8 159.5,340.7 160.7,339.6 162.0,338.5 163.2,337.4 164.4,336.4 165.7,335.4 166.9,334.4 168.2,333.4 169.4,332.5 170.6,331.5 171.9,330.6 173.1,329.7 174.4,328.9 175.6,328.0 176.8,327.2 178.1,326.4 179.3,325.6 180.5,324.9 181.8,324.1 183.0,323.4 184.3,322.7 185.5,322.1 186.7,321.4 188.0,320.8 189.2,320.2 190.5,319.6 191.7,319.0 192.9,318.5 194.2,317.9 195.4,317.4 196.7,316.9 197.9,316.4 199.1,316.0 200.4,315.5 201.6,315.1 202.8,314.7 204.1,314.2 205.3,313.9 206.6,313.5 207.8,313.1 209.0,312.8 210.3,312.4 211.5,312.1 212.8,311.8 214.0,311.5 215.2,311.2 216.5,310.9 217.7,310.6 219.0,310.4 220.2,310.1 221.4,309.9 222.7,309.6 223.9,309.4 225.1,309.2 226.4,309.0 227.6,308.8 228.9,308.6 230.1,308.4 231.3,308.2 232.6,308.0 233.8,307.9 235.1,307.7 236.3,307.6 237.5,307.4 238.8,307.3 240.0,307.1 241.3,307.0 242.5,306.9 243.7,306.7 245.0,306.6 246.2,306.5 247.4,306.4 248.7,306.3 249.9,306.2 251.2,306.1 252.4,306.0 253.6,305.9 254.9,305.8 256.1,305.7 257.4,305.6 258.6,305.5 259.8,305.5 261.1,305.4 262.3,305.3 263.5,305.3 264.8,305.2 266.0,305.1 267.3,305.1 268.5,305.0 269.7,304.9 271.0,304.9 272.2,304.8 273.5,304.8 274.7,304.7 275.9,304.7 277.2,304.6 278.4,304.6 279.7,304.5 280.9,304.5 282.1,304.4 283.4,304.4 284.6,304.4 285.8,304.3 287.1,304.3 288.3,304.3 289.6,304.2 290.8,304.2 292.0,304.2 293.3,304.1 294.5,304.1 295.8,304.1 297.0,304.0 298.2,304.0 299.5,304.0 300.7,304.0 302.0,303.9 303.2,303.9 304.4,303.9 305.7,303.9 306.9,303.9 308.1,303.8 309.4,303.8 310.6,303.8 311.9,303.8 313.1,303.8 314.3,303.7 315.6,303.7 316.8,303.7 318.1,303.7 319.3,303.7 320.5,303.7 321.8,303.7 323.0,303.6 324.3,303.6 325.5,303.6 326.7,303.6 328.0,303.6 329.2,303.6 330.4,303.6 331.7,303.6 332.9,303.6 334.2,303.5 335.4,303.5 336.6,303.5 337.9,303.5 339.1,303.5 340.4,303.5 341.6,303.5 342.8,303.5 344.1,303.5 345.3,303.5 346.6,303.5 347.8,303.5 349.0,303.5 350.3,303.4 351.5,303.4 352.7,303.4 354.0,303.4 355.2,303.4 356.5,303.4 357.7,303.4 358.9,303.4 360.2,303.4 361.4,303.4 362.7,303.4 363.9,303.4 365.1,303.4 366.4,303.4 367.6,303.4 368.9,303.4 370.1,303.4 371.3,303.4 372.6,303.4 373.8,303.4 375.0,303.4 376.3,303.4 377.5,303.4 378.8,303.4 380.0,303.4 381.2,303.4 382.5,303.4 383.7,303.4 385.0,303.4 386.2,303.4 387.4,303.4 388.7,303.4 389.9,303.4 391.2,303.4 392.4,303.4 393.6,303.4 394.9,303.4 396.1,303.4 397.3,303.4 398.6,303.4 399.8,303.4 401.1,303.4 402.3,303.4 403.5,303.4 404.8,303.4 406.0,303.4 407.3,303.4 408.5,303.4 409.7,303.4 411.0,303.4 412.2,303.4 413.4,303.4 414.7,303.4 415.9,303.4 417.2,303.4 418.4,303.4 419.6,303.4 420.9,303.4 422.1,303.4 423.4,303.4 424.6,303.4 425.8,303.4 427.1,303.4 428.3,303.4 429.6,303.4 430.8,303.4 432.0,303.4 433.3,303.4 434.5,303.4 435.7,303.4 437.0,303.4 438.2,303.4 439.5,303.4 440.7,303.4 441.9,303.4 443.2,303.4 444.4,303.4 445.7,303.4 446.9,303.4 448.1,303.4 449.4,303.4 450.6,303.4 451.9,303.4 453.1,303.4 454.3,303.4 455.6,303.4 456.8,303.4 458.0,303.4 459.3,303.4 460.5,303.4 461.8,303.4 463.0,303.4 464.2,303.4 465.5,303.4 466.7,303.4 468.0,303.4 469.2,303.4 470.4,303.5 471.7,303.5 472.9,303.5 474.2,303.5 475.4,303.5 476.6,303.5 477.9,303.5 479.1,303.5 480.3,303.5 481.6,303.5 482.8,303.5 484.1,303.5 485.3,303.5 486.5,303.5 487.8,303.5 489.0,303.5 490.3,303.5 491.5,303.5 492.7,303.5 494.0,303.5 495.2,303.5 496.5,303.5 497.7,303.5 498.9,303.5 500.2,303.5 501.4,303.5 502.6,303.5 503.9,303.5 505.1,303.5 506.4,303.5 507.6,303.5 508.8,303.5 510.1,303.6 511.3,303.6 512.6,303.6 513.8,303.6 515.0,303.6 516.3,303.6 517.5,303.6 518.8,303.6 520.0,303.6 521.2,303.6 522.5,303.6 523.7,303.6 524.9,303.6 526.2,303.6 527.4,303.6 528.7,303.6 529.9,303.6 531.1,303.6 532.4,303.6 533.6,303.6 534.9,303.6 536.1,303.6 537.3,303.6 538.6,303.6 539.8,303.6 541.1,303.6 542.3,303.6 543.5,303.6 544.8,303.6 546.0,303.7 547.2,303.7 548.5,303.7 549.7,303.7 551.0,303.7 552.2,303.7 553.4,303.7 554.7,303.7 555.9,303.7 557.2,303.7 558.4,303.7 559.6,303.7 560.9,303.7 562.1,303.7 563.4,303.7 564.6,303.7 565.8,303.7 567.1,303.7 568.3,303.7 569.5,303.7 570.8,303.7 572.0,303.7 573.3,303.7 574.5,303.7"/>
<polyline points="80.2,430.6 81.4,429.1 82.7,427.7 83.9,426.2 85.2,424.8 86.4,423.5 87.6,422.1 88.9,420.8 90.1,419.6 91.3,418.4 92.6,417.3 93.8,416.2 95.1,415.2 96.3,414.2 97.5,413.3 98.8,412.5 100.0,411.6 101.3,410.9 102.5,410.2 103.7,409.5 105.0,408.9 106.2,408.3 107.5,407.7 108.7,407.2 109.9,406.7 111.2,406.2 112.4,405.8 113.6,405.4 114.9,405.0 116.1,404.6 117.4,404.3 118.6,404.0 119.8,403.7 121.1,403.4 122.3,403.1 123.6,402.9 124.8,402.6 126.0,402.4 127.3,402.2 128.5,402.0 129.8,401.8 131.0,401.6 132.2,401.4 133.5,401.3 134.7,401.1 135.9,401.0 137.2,400.8 138.4,400.7 139.7,400.6 140.9,400.4 142.1,400.3 143.4,400.2 144.6,400.1 145.9,400.0 147.1,399.9 148.3,399.8 149.6,399.7 150.8,399.6 152.1,399.6 153.3,399.5 154.5,399.4 155.8,399.3 157.0,399.3 158.2,399.2 159.5,399.2 160.7,399.1 162.0,399.0 163.2,399.0 164.4,398.9 165.7,398.9 166.9,398.8 168.2,398.8 169.4,398.7 170.6,398.7 171.9,398.6 173.1,398.6 174.4,398.6 175.6,398.5 176.8,398.5 178.1,398.4 179.3,398.4 180.5,398.4 181.8,398.3 183.0,398.3 184.3,398.3 185.5,398.2 186.7,398.2 188.0,398.2 189.2,398.2 190.5,398.1 191.7,398.1 192.9,398.1 194.2,398.1 195.4,398.0 196.7,398.0 197.9,398.0 199.1,398.0 200.4,398.0 201.6,397.9 202.8,397.9 204.1,397.9 205.3,397.9 206.6,397.9 207.8,397.8 209.0,397.8 210.3,397.8 211.5,397.8 212.8,397.8 214.0,397.8 215.2,397.7 216.5,397.7 217.7,397.7 219.0,397.7 220.2,397.7 221.4,397.7 222.7,397.7 223.9,397.6 225.1,397.6 226.4,397.6 227.6,397.6 228.9,397.6 230.1,397.6 231.3,397.6 232.6,397.6 233.8,397.6 235.1,397.5 236.3,397.5 237.5,397.5 238.8,397.5 240.0,397.5 241.3,397.5 242.5,397.5 243.7,397.5 245.0,397.5 246.2,397.5 247.4,397.4 248.7,397.4 249.9,397.4 251.2,397.4 252.4,397.4 253.6,397.4 254.9,397.4 256.1,397.4 257.4,397.4 258.6,397.4 259.8,397.4 261.1,397.4 262.3,397.4 263.5,397.4 264.8,397.3 266.0,397.3 267.3,397.3 268.5,397.3 269.7,397.3 271.0,397.3 272.2,397.3 273.5,397.3 274.7,397.3 275.9,397.3 277.2,397.3 278.4,397.3 279.7,397.3 280.9,397.3 282.1,397.3 283.4,397.3 284.6,397.3 285.8,397.3 287.1,397.3 288.3,397.2 289.6,397.2 290.8,397.2 292.0,397.2 293.3,397.2 294.5,397.2 295.8,397.2 297.0,397.2 298.2,397.2 299.5,397.2 300.7,397.2 302.0,397.2 303.2,397.2 304.4,397.2 305.7,397.2 306.9,397.2 308.1,397.2 309.4,397.2 310.6,397.2 311.9,397.2 313.1,397.2 314.3,397.2 315.6,397.2 316.8,397.2 318.1,397.2 319.3,397.2 320.5,397.1 321.8,397.1 323.0,397.1 324.3,397.1 325.5,397.1 326.7,397.1 328.0,397.1 329.2,397.1 330.4,397.1 331.7,397.1 332.9,397.1 334.2,397.1 335.4,397.1 336.6,397.1 337.9,397.1 339.1,397.1 340.4,397.1 341.6,397.1 342.8,397.1 344.1,397.1 345.3,397.1 346.6,397.1 347.8,397.1 349.0,397.1 350.3,397.1 351.5,397.1 352.7,397.1 354.0,397.1 355.2,397.1 356.5,397.1 357.7,397.1 358.9,397.1 360.2,397.1 361.4,397.1 362.7,397.1 363.9,397.1 365.1,397.1 366.4,397.1 367.6,397.1 368.9,397.1 370.1,397.1 371.3,397.1 372.6,397.1 373.8,397.0 375.0,397.0 376.3,397.0 377.5,397.0 378.8,397.0 380.0,397.0 381.2,397.0 382.5,397.0 383.7,397.0 385.0,397.0 386.2,397.0 387.4,397.0 388.7,397.0 389.9,397.0 391.2,397.0 392.4,397.0 393.6,397.0 394.9,397.0 396.1,397.0 397.3,397.0 398.6,397.0 399.8,397.0 401.1,397.0 402.3,397.0 403.5,397.0 404.8,397.0 406.0,397.0 407.3,397.0 408.5,397.0 409.7,397.0 411.0,397.0 412.2,397.0 413.4,397.0 414.7,397.0 415.9,397.0 417.2,397.0 418.4,397.0 419.6,397.0 420.9,397.0 422.1,397.0 423.4,397.0 424.6,397.0 425.8,397.0 427.1,397.0 428.3,397.0 429.6,397.0 430.8,397.0 432.0,397.0 433.3,397.0 434.5,397.0 435.7,397.0 437.0,397.0 438.2,397.0 439.5,397.0 440.7,397.0 441.9,397.0 443.2,397.0 444.4,397.0 445.7,397.0 446.9,397.0 448.1,397.0 449.4,397.0 450.6,397.0 451.9,397.0 453.1,397.0 454.3,397.0 455.6,397.0 456.8,397.0 458.0,397.0 459.3,397.0 460.5,397.0 461.8,397.0 463.0,397.0 464.2,397.0 465.5,397.0 466.7,397.0 468.0,397.0 469.2,397.0 470.4,397.0 471.7,397.0 472.9,397.0 474.2,397.0 475.4,397.0 476.6,397.0 477.9,397.0 479.1,397.0 480.3,397.0 481.6,396.9 482.8,396.9 484.1,396.9 485.3,396.9 486.5,396.9 487.8,396.9 489.0,396.9 490.3,396.9 491.5,396.9 492.7,396.9 494.0,396.9 495.2,396.9 496.5,396.9 497.7,396.9 498.9,396.9 500.2,396.9 501.4,396.9 502.6,396.9 503.9,396.9 505.1,396.9 506.4,396.9 507.6,396.9 508.8,396.9 510.1,396.9 511.3,396.9 512.6,396.9 513.8,396.9 515.0,396.9 516.3,396.9 517.5,396.9 518.8,396.9 520.0,396.9 521.2,396.9 522.5,396.9 523.7,396.9 524.9,396.9 526.2,396.9 527.4,396.9 528.7,396.9 529.9,396.9 531.1,396.9 532.4,396.9 533.6,396.9 534.9,396.9 536.1,396.9 537.3,396.9 538.6,396.9 539.8,396.9 541.1,396.9 542.3,396.9 543.5,396.9 544.8,396.9 546.0,396.9 547.2,396.9 548.5,396.9 549.7,396.9 551.0,396.9 552.2,396.9 553.4,396.9 554.7,396.9 555.9,396.9 557.2,396.9 558.4,396.9 559.6,396.9 560.9,396.9 562.1,396.9 563.4,396.9 564.6,396.9 565.8,396.9 567.1,396.9 568.3,396.9 569.5,396.9 570.8,396.9 572.0,396.9 573.3,396.9 574.5,396.9"/>
<polyline points="80.2,430.1 574.5,430.1"/>
</g>
<rect x="80.0" y="33.15" width="494.85" height="397.95" fill="none" stroke="#1a1a1a" stroke-width="1.9"/>
<path d="M80.00 431.1V423.60M129.45 431.1V427.10M178.90 431.1V423.60M228.35 431.1V427.10M277.80 431.1V423.60M327.25 431.1V427.10M376.70 431.1V423.60M426.15 431.1V427.10M475.60 431.1V423.60M525.05 431.1V427.10M574.50 431.1V423.60M80.0 431.10H87.50M80.0 391.30H84.00M80.0 351.50H87.50M80.0 311.70H84.00M80.0 271.90H87.50M80.0 232.10H84.00M80.0 192.30H87.50M80.0 152.50H84.00M80.0 112.70H87.50M80.0 72.90H84.00M80.0 33.10H87.50" stroke="#000" stroke-width="1.8" fill="none"/>
<path d="M83.0 430.7L228.4 223.6" stroke="#000" stroke-width="3" stroke-dasharray="15 14.8" fill="none"/>
<g font-size="23.8"><text x="80.0" y="457.6" text-anchor="middle">0</text><text x="178.9" y="457.6" text-anchor="middle">2</text><text x="277.8" y="457.6" text-anchor="middle">4</text><text x="376.7" y="457.6" text-anchor="middle">6</text><text x="475.6" y="457.6" text-anchor="middle">8</text><text x="574.5" y="457.6" text-anchor="middle">10</text><text x="69" y="435.6" text-anchor="end">0</text><text x="69" y="356.0" text-anchor="end">2</text><text x="69" y="276.4" text-anchor="end">4</text><text x="69" y="196.8" text-anchor="end">6</text><text x="69" y="117.2" text-anchor="end">8</text><text x="69" y="37.6" text-anchor="end">10</text></g>
<text x="109" y="70.1" font-size="20.6">V<tspan font-size="14.6" dy="5">GS</tspan><tspan dy="-5"> = 0 V to 8 V</tspan></text>
<text x="106.4" y="110.7" font-size="20.6">V<tspan font-size="14.6" dy="5">step</tspan><tspan dy="-5"> = 1 V</tspan></text>
<text x="271" y="498.2" font-size="25.7">V<tspan font-size="18" dy="7">DS</tspan></text>
<text x="339.6" y="498.2" font-size="25.7">V</text>
<path d="M336.0 479.0Q318.8 489 336.0 499.0Q322.8 489 336.0 479.0Z M360.6 479.0Q377.8 489 360.6 499.0Q373.8 489 360.6 479.0Z" fill="#000" stroke="#000" stroke-width="0.9" stroke-linejoin="round"/>
<text transform="translate(30.9,298.7) rotate(-90)" font-size="26.3">I<tspan font-size="17" dy="7">D</tspan><tspan dy="-7">(mA/mm)</tspan></text>
<g transform="translate(132.5,321.8) rotate(-55)"><text font-size="22.4">618 <tspan font-weight="normal">Ω · </tspan>mm</text></g>
</svg>
</body></html>
